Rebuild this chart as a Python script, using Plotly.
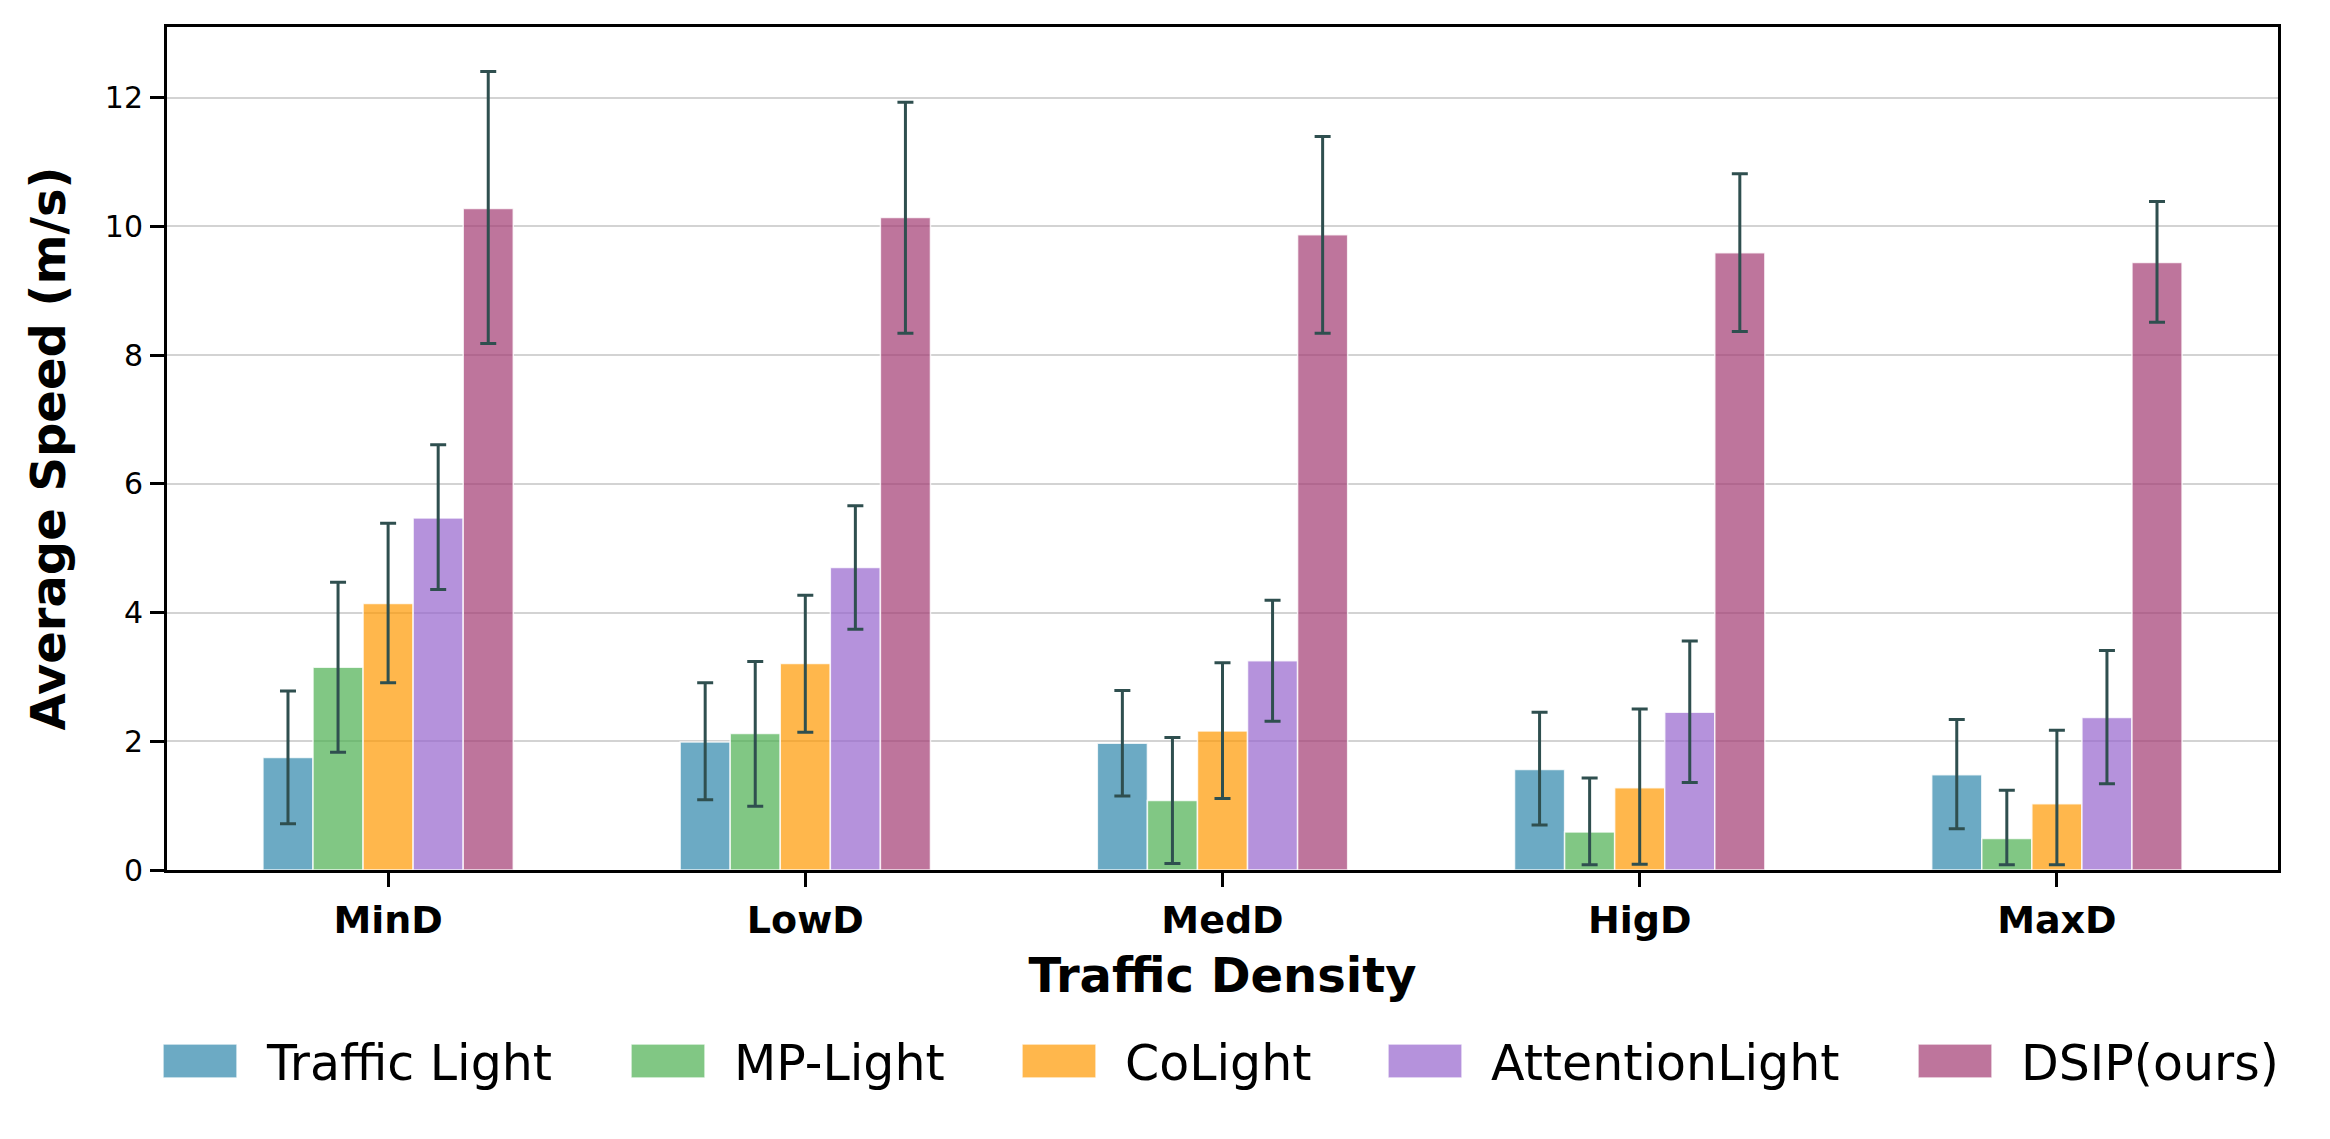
import plotly.graph_objects as go

# ---------------- data ----------------
categories = ["MinD", "LowD", "MedD", "HigD", "MaxD"]

series_names = ["Traffic Light", "MP-Light", "CoLight", "AttentionLight", "DSIP(ours)"]

traffic_light = [1.75, 1.99, 1.97, 1.56, 1.48]
traffic_light_hi = [2.78, 2.91, 2.79, 2.45, 2.34]
traffic_light_lo = [0.72, 1.09, 1.15, 0.70, 0.64]

mp_light = [3.15, 2.12, 1.08, 0.59, 0.49]
mp_light_hi = [4.47, 3.24, 2.06, 1.43, 1.24]
mp_light_lo = [1.83, 0.99, 0.10, 0.08, 0.08]

colight = [4.14, 3.21, 2.16, 1.28, 1.03]
colight_hi = [5.39, 4.27, 3.22, 2.50, 2.17]
colight_lo = [2.91, 2.14, 1.11, 0.09, 0.08]

attentionlight = [5.47, 4.70, 3.25, 2.45, 2.37]
attentionlight_hi = [6.61, 5.66, 4.19, 3.56, 3.41]
attentionlight_lo = [4.36, 3.74, 2.31, 1.36, 1.34]

dsip = [10.28, 10.14, 9.87, 9.59, 9.44]
dsip_hi = [12.41, 11.93, 11.40, 10.82, 10.39]
dsip_lo = [8.18, 8.34, 8.34, 8.37, 8.51]

y_ticks = [0, 2, 4, 6, 8, 10, 12]

# ---------------- styling ----------------
base_colors = ["46,134,171", "76,175,80", "255,152,0", "150,100,205", "162,59,114"]
alpha = 0.7
err_color = "#2F4F4F"

values = [traffic_light, mp_light, colight, attentionlight, dsip]
his = [traffic_light_hi, mp_light_hi, colight_hi, attentionlight_hi, dsip_hi]
los = [traffic_light_lo, mp_light_lo, colight_lo, attentionlight_lo, dsip_lo]

W, H = 2330, 1139
L, R, T, B = 167, 52, 27, 269

fig = go.Figure()
for name, vals, hi, lo, c in zip(series_names, values, his, los, base_colors):
    fig.add_trace(go.Bar(
        name=name,
        x=categories,
        y=vals,
        marker=dict(color=f"rgba({c},{alpha})",
                    line=dict(color="rgba(255,255,255,0.8)", width=1.5)),
        error_y=dict(type="data", symmetric=False,
                     array=[h - v for h, v in zip(hi, vals)],
                     arrayminus=[v - l for v, l in zip(vals, lo)],
                     color=err_color, thickness=3, width=8),
        showlegend=False,
    ))

# ---------------- manual legend (large swatches like the reference) ----------------
plot_w = W - L - R
plot_h = H - T - B
def px_x(px):
    return (px - L) / plot_w
def px_y(py):
    return (H - B - py) / plot_h

legend_left = [163, 631, 1022, 1388, 1918]
sw_w, sw_top, sw_bot = 74, 1044, 1078
text_gap = 27
shapes = []
annotations = []
for name, c, lx in zip(series_names, base_colors, legend_left):
    shapes.append(dict(type="rect", xref="paper", yref="paper",
                       x0=px_x(lx), x1=px_x(lx + sw_w),
                       y0=px_y(sw_bot), y1=px_y(sw_top),
                       fillcolor=f"rgba({c},{alpha})",
                       line=dict(color="rgba(255,255,255,0.8)", width=1.5)))
    annotations.append(dict(xref="paper", yref="paper",
                            x=px_x(lx + sw_w + text_gap), y=px_y(1063),
                            xanchor="left", yanchor="middle", showarrow=False,
                            text=name,
                            font=dict(family="DejaVu Sans", size=49, color="black")))

fig.update_layout(
    width=W, height=H,
    margin=dict(l=L, r=R, t=T, b=B, autoexpand=False),
    paper_bgcolor="white", plot_bgcolor="white",
    barmode="group", bargap=0.4, bargroupgap=0.0,
    font=dict(family="DejaVu Sans", color="black"),
    shapes=shapes, annotations=annotations,
)

fig.update_xaxes(
    type="category", range=[-0.53, 4.53],
    showline=True, linecolor="black", linewidth=3, mirror=True,
    ticks="outside", ticklen=14, tickwidth=3, tickcolor="black",
    tickfont=dict(family="DejaVu Sans", size=38, weight="bold", color="black"),
    ticklabelstandoff=0,
    showgrid=False, zeroline=False,
    title=dict(text="Traffic Density", standoff=18,
               font=dict(family="DejaVu Sans", size=48, weight="bold", color="black")),
)
fig.update_yaxes(
    range=[0, 13.1],
    tickvals=y_ticks, ticktext=[str(t) for t in y_ticks],
    showline=True, linecolor="black", linewidth=3, mirror=True,
    ticks="outside", ticklen=14, tickwidth=3, tickcolor="black",
    tickfont=dict(family="DejaVu Sans", size=30, color="black"),
    ticklabelstandoff=1,
    showgrid=True, gridcolor="rgba(200,200,200,0.8)", gridwidth=2,
    zeroline=False,
    title=dict(text="Average Speed (m/s)", standoff=25,
               font=dict(family="DejaVu Sans", size=48, weight="bold", color="black")),
)

fig.write_html("out.html")
